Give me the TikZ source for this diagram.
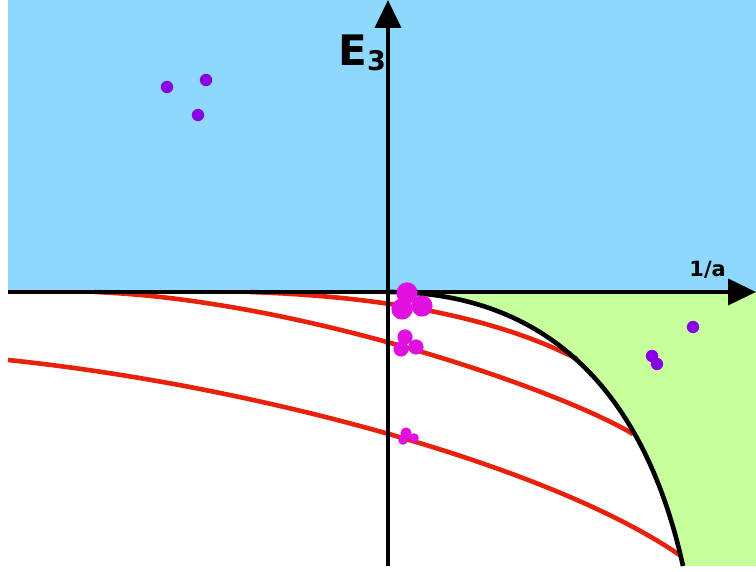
\documentclass[tikz,border=0pt]{standalone}
\usepackage{fontspec}
\setmainfont{DejaVu Sans}
\usepackage{xcolor}
\usepackage{tikz}
\usetikzlibrary{arrows.meta,positioning}

\definecolor{skyfill}{HTML}{8ED8FE}
\definecolor{limefill}{HTML}{C6FF9C}
\definecolor{levelred}{HTML}{E8200C}
\definecolor{trimer}{HTML}{E010E0}
\definecolor{dimer}{HTML}{8A00E6}

\begin{document}
\begin{tikzpicture}[
  x=0.5pt, y=-0.5pt,
  axisline/.style={line width=2pt, -{Triangle[length=14pt,width=13pt]}},
  level/.style={line width=2.3pt, levelred},
  bound/.style={line width=2.3pt, black},
  tri/.style={fill=trimer},
  atomdimer/.style={fill=dimer},
]
\useasboundingbox (0,0) rectangle (756,572);

% regions
\fill[skyfill] (8,0) rectangle (756,292);
\fill[limefill] (756,292) -- (388,292) .. controls (520,292) and (638,362) .. (683,566)
  -- (756,566) -- cycle;

% Efimov levels
\draw[level] (250,292) .. controls (400,297) and (505,322) .. (577,359);
\draw[level] (95,292) .. controls (300,300) and (560,390) .. (633,434);
\draw[level] (8,360) .. controls (250,385) and (550,465) .. (681,556);

% atom-dimer threshold
\draw[bound] (388,292) .. controls (520,292) and (638,362) .. (683,566);

% axes
\coordinate (O) at (388,292);
\coordinate (xl) at (8,292);
\coordinate (xr) at (756,292);
\coordinate (yb) at (388,566);
\coordinate (yt) at (388,0);
\draw[axisline] (xl) -- (xr);
\draw[axisline] (yb) -- (yt);

\node[anchor=base west, inner sep=0pt, font=\bfseries\fontsize{21}{21}\selectfont] (Elab) at (338,66)
  {E\raisebox{-2.5pt}{\fontsize{13.5}{13.5}\selectfont 3}};
\node[anchor=base west, inner sep=0pt, font=\bfseries\fontsize{10.5}{10.5}\selectfont] (alab) at (689,277) {1/a};

% dots
\foreach \p in {(167,87),(206,80),(198,115),(693,327),(652,356),(657,364)}
  \fill[atomdimer] \p circle[radius=3.1pt];
\foreach \p in {(407,293),(402,309),(422,306)}
  \fill[tri] \p circle[radius=5.3pt];
\foreach \p in {(405,337),(401,349),(416,347)}
  \fill[tri] \p circle[radius=3.8pt];
\fill[tri] (406,433) circle[radius=2.8pt];
\fill[tri] (403,440) circle[radius=2.4pt];
\fill[tri] (414,438) circle[radius=2.4pt];

\end{tikzpicture}
\end{document}
